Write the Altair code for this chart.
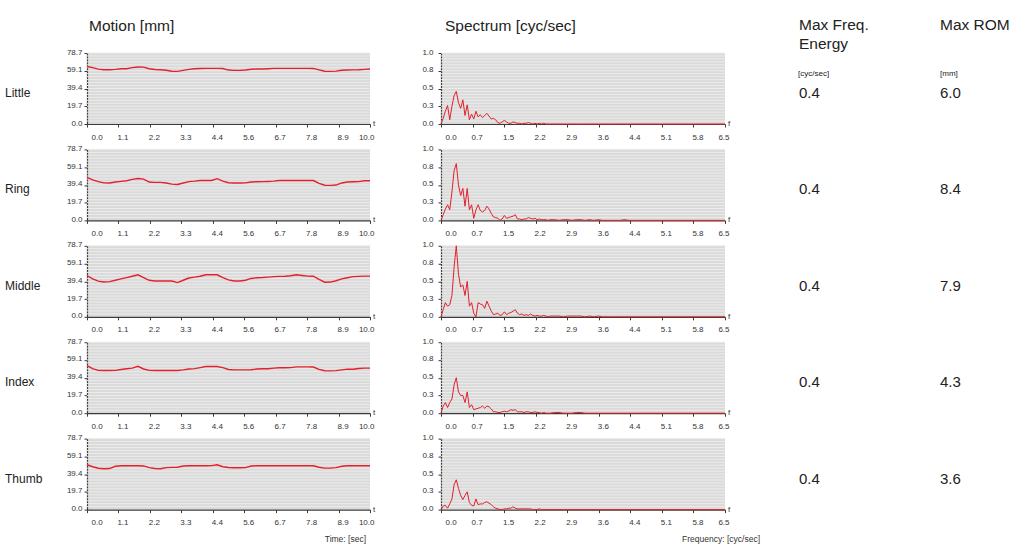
import altair as alt
import pandas as pd

# ---------------- data ----------------
fingers = ["Little", "Ring", "Middle", "Index", "Thumb"]
max_freq_energy = ["0.4", "0.4", "0.4", "0.4", "0.4"]
max_rom = ["6.0", "8.4", "7.9", "4.3", "3.6"]

time_sec = [round(i * 0.2, 1) for i in range(51)]

motion_little = [63.8, 62.5, 60.8, 60.1, 60.1, 60.5, 61.2, 61.3, 62.5, 63.1, 63.0,
                 61.2, 60.4, 60.2, 59.6, 58.5, 58.3, 59.5, 60.5, 61.2, 61.6,
                 61.7, 61.7, 61.7, 61.5, 59.8, 59.4, 59.4, 59.8, 60.7, 61.0,
                 61.0, 61.3, 61.7, 61.7, 61.7, 61.7, 61.7, 61.7, 61.7, 61.6,
                 60.0, 58.5, 58.3, 58.6, 59.6, 59.8, 60.0, 60.1, 60.5, 60.9]
motion_ring = [47.6, 45.0, 43.0, 41.6, 41.4, 42.5, 43.2, 44.0, 45.5, 46.5, 45.8,
               42.5, 42.1, 42.1, 41.5, 40.2, 39.8, 41.5, 43.0, 43.5, 44.2,
               44.3, 44.3, 46.3, 43.5, 41.8, 41.4, 41.4, 41.6, 42.5, 42.9,
               43.0, 43.2, 43.5, 44.3, 44.3, 44.3, 44.3, 44.3, 44.3, 44.2,
               41.0, 39.0, 38.8, 39.2, 41.5, 42.5, 42.9, 43.0, 44.0, 44.0]
motion_middle = [45.8, 42.0, 39.5, 38.6, 39.0, 40.5, 42.0, 43.5, 45.0, 46.6, 43.5,
                 40.5, 39.7, 39.7, 39.7, 39.7, 37.9, 40.5, 43.0, 44.0, 45.0,
                 46.6, 46.6, 46.6, 43.5, 41.0, 39.7, 39.7, 40.5, 42.5, 43.3,
                 43.5, 44.0, 44.5, 44.8, 45.0, 45.5, 46.6, 45.8, 45.1, 45.0,
                 41.5, 38.3, 38.5, 40.0, 42.0, 43.3, 44.5, 44.8, 45.1, 45.1]
motion_index = [52.8, 49.5, 47.5, 47.3, 47.3, 47.5, 48.5, 49.2, 50.0, 52.0, 49.0,
                47.5, 47.3, 47.3, 47.3, 47.3, 47.3, 48.0, 49.0, 49.4, 50.5,
                51.7, 51.7, 51.7, 50.5, 48.5, 48.0, 48.0, 48.0, 48.2, 49.0,
                49.2, 49.2, 50.0, 50.3, 50.3, 50.5, 51.4, 51.4, 51.4, 51.2,
                48.5, 47.0, 46.9, 47.2, 48.0, 48.8, 48.8, 49.5, 50.0, 50.0]
motion_thumb = [49.7, 47.5, 45.8, 45.3, 45.5, 48.0, 48.6, 48.6, 48.6, 48.6, 48.4,
                46.5, 45.5, 45.3, 46.5, 46.8, 47.0, 48.3, 48.6, 48.6, 48.6,
                48.6, 48.8, 49.7, 47.5, 46.6, 46.4, 46.4, 46.5, 48.3, 48.6,
                48.6, 48.6, 48.6, 48.6, 48.6, 48.6, 48.6, 48.6, 48.6, 48.6,
                47.0, 46.0, 46.0, 46.5, 48.0, 48.6, 48.6, 48.6, 48.6, 48.6]

freq_hz = ([round(i * 0.05, 2) for i in range(51)]
           + [round(2.6 + i * 0.1, 1) for i in range(19)] + [6.5])

spec_little = [0.0, 0.08, 0.18, 0.26, 0.06, 0.25, 0.40, 0.46, 0.30, 0.22, 0.34,
               0.12, 0.27, 0.06, 0.14, 0.07, 0.18, 0.10, 0.13, 0.09, 0.12,
               0.15, 0.11, 0.07, 0.08, 0.06, 0.02, 0.01, 0.03, 0.05, 0.03,
               0.01, 0.01, 0.03, 0.02, 0.01, 0.01, 0.0, 0.01, 0.01, 0.02,
               0.01, 0.0, 0.01, 0.0, 0.01, 0.0, 0.01, 0.0, 0.0, 0.0,
               0, 0, 0, 0, 0, 0, 0, 0, 0, 0, 0, 0, 0, 0, 0, 0, 0, 0, 0, 0.0]
spec_ring = [0.0, 0.08, 0.16, 0.22, 0.15, 0.40, 0.70, 0.80, 0.50, 0.35, 0.45,
             0.20, 0.45, 0.15, 0.22, 0.03, 0.15, 0.22, 0.14, 0.12, 0.14,
             0.20, 0.16, 0.10, 0.05, 0.04, 0.03, 0.0, 0.02, 0.07, 0.03,
             0.04, 0.05, 0.06, 0.08, 0.02, 0.02, 0.01, 0.02, 0.02, 0.04,
             0.03, 0.02, 0.03, 0.01, 0.02, 0.01, 0.01, 0.01, 0.0, 0.01,
             0.01, 0.0, 0.01, 0.01, 0.0, 0.01, 0.01, 0.0, 0.01, 0.0, 0.01,
             0.0, 0.0, 0.0, 0.0, 0.0, 0.01, 0.0, 0.0, 0.0]
spec_middle = [0.0, 0.10, 0.20, 0.15, 0.17, 0.30, 0.70, 1.0, 0.60, 0.42, 0.45,
               0.30, 0.50, 0.15, 0.20, 0.05, 0.0, 0.20, 0.18, 0.17, 0.12,
               0.22, 0.15, 0.08, 0.03, 0.04, 0.05, 0.02, 0.03, 0.07, 0.03,
               0.05, 0.06, 0.08, 0.10, 0.05, 0.03, 0.04, 0.02, 0.03, 0.02,
               0.04, 0.02, 0.01, 0.02, 0.01, 0.01, 0.02, 0.01, 0.0, 0.01,
               0.01, 0.01, 0.0, 0.01, 0.01, 0.01, 0.01, 0.0, 0.01, 0.0, 0.01,
               0.0, 0.0, 0.0, 0.0, 0.0, 0.0, 0.0, 0.0, 0.0]
spec_index = [0.0, 0.10, 0.15, 0.08, 0.15, 0.20, 0.40, 0.50, 0.30, 0.25, 0.25,
              0.15, 0.30, 0.08, 0.12, 0.05, 0.06, 0.07, 0.08, 0.10, 0.07,
              0.10, 0.09, 0.06, 0.02, 0.02, 0.01, 0.01, 0.02, 0.03, 0.02,
              0.03, 0.05, 0.04, 0.05, 0.02, 0.02, 0.02, 0.01, 0.02, 0.02,
              0.01, 0.01, 0.02, 0.01, 0.01, 0.0, 0.01, 0.0, 0.0, 0.0,
              0.01, 0.01, 0.0, 0.0, 0.0, 0.01, 0.01, 0.0, 0.0, 0.0,
              0.0, 0.0, 0.0, 0.0, 0.0, 0.0, 0.0, 0.0, 0.0, 0.0]
spec_thumb = [0.0, 0.05, 0.06, 0.02, 0.08, 0.15, 0.35, 0.42, 0.30, 0.20, 0.14,
              0.20, 0.25, 0.10, 0.06, 0.05, 0.15, 0.07, 0.08, 0.08, 0.10,
              0.11, 0.09, 0.07, 0.04, 0.02, 0.01, 0.0, 0.0, 0.01, 0.01,
              0.02, 0.02, 0.04, 0.02, 0.01, 0.01, 0.01, 0.01, 0.01, 0.01,
              0.01, 0.0, 0.0, 0.0, 0.01, 0.0, 0.0, 0.0, 0.0, 0.0,
              0, 0, 0, 0, 0, 0, 0, 0, 0, 0, 0, 0, 0, 0, 0, 0, 0, 0, 0, 0.0]

motion_series = [motion_little, motion_ring, motion_middle, motion_index, motion_thumb]
spectrum_series = [spec_little, spec_ring, spec_middle, spec_index, spec_thumb]

motion_y_labels = ["0.0", "19.7", "39.4", "59.1", "78.7"]
time_labels = ["0.0", "1.1", "2.2", "3.3", "4.4", "5.6", "6.7", "7.8", "8.9", "10.0"]
spec_y_labels = ["0.0", "0.3", "0.5", "0.8", "1.0"]
freq_labels = ["0.0", "0.7", "1.5", "2.2", "2.9", "3.6", "4.4", "5.1", "5.8", "6.5"]

MOTION_MAX = 78.7
TIME_MAX = 10.0
SPEC_MAX = 1.0
FREQ_MAX = 6.5

# ---------------- style ----------------
FONT = "Liberation Sans"
RED = "#e3202c"
TXT = "#222222"
TICK_TXT = "#333333"
AXIS_COL = "#3a3a3a"
BG = "#dadada"
STRIPE = "#ececec"
W_M, W_S, H = 283, 284, 71


def lab_expr(labels, step):
    arr = "[" + ",".join("'%s'" % s for s in labels) + "]"
    return "%s[round(datum.value / %r)]" % (arr, step)


def axis(values, labels, step, orient, pad, offset):
    return alt.Axis(values=values, labelExpr=lab_expr(labels, step), title=None,
                    grid=False, orient=orient, labelFont=FONT, labelFontSize=8,
                    labelColor=TICK_TXT, domainColor=AXIS_COL, tickColor=AXIS_COL,
                    tickSize=3, labelPadding=pad, labelOffset=offset, domainWidth=1.2)


def text(s, x, y, size, align="left", color=TXT):
    return alt.Chart(pd.DataFrame({"s": [s]})).mark_text(
        align=align, baseline="middle", font=FONT, fontSize=size, color=color
    ).encode(x=alt.value(x), y=alt.value(y), text="s:N")


def panel(xs_vals, ys_vals, xmax, ymax, xlabels, ylabels, width, letter, ypad):
    xstep = xmax / (len(xlabels) - 1)
    ystep = ymax / (len(ylabels) - 1)
    xscale = alt.Scale(domain=[0, xmax], nice=False, zero=False)
    yscale = alt.Scale(domain=[0, ymax], nice=False, zero=False)
    xaxis = axis([xstep * k for k in range(len(xlabels))], xlabels, xstep, "bottom", 6, 4)
    yaxis = axis([ystep * k for k in range(len(ylabels))], ylabels, ystep, "left", ypad, -1)
    stripe_df = pd.DataFrame({"g": [ymax * k / 24 for k in range(1, 25)],
                              "x0": [0.0] * 24, "x1": [xmax] * 24})
    stripes = alt.Chart(stripe_df).mark_rule(color=STRIPE, strokeWidth=1).encode(
        x=alt.X("x0:Q", scale=xscale, axis=xaxis),
        x2="x1:Q",
        y=alt.Y("g:Q", scale=yscale, axis=yaxis))
    df = pd.DataFrame({"x": xs_vals, "y": ys_vals})
    line = alt.Chart(df).mark_line(color=RED, strokeWidth=1.4 if letter == "t" else 1).encode(
        x=alt.X("x:Q", scale=xscale, axis=xaxis),
        y=alt.Y("y:Q", scale=yscale, axis=yaxis),
    )
    return [stripes, line, text(letter, width + 4, H, 8, align="center", color=TICK_TXT)]


panels = []
for i, name in enumerate(fingers):
    m_layers = panel(time_sec, motion_series[i], TIME_MAX, MOTION_MAX, time_labels,
                     motion_y_labels, W_M, "t", 2)
    m_layers.append(text(name, -82, 40, 12))
    s_layers = panel(freq_hz, spectrum_series[i], FREQ_MAX, SPEC_MAX, freq_labels,
                     spec_y_labels, W_S, "f", 5)
    s_layers.append(text(max_freq_energy[i], 358, 40, 15))
    s_layers.append(text(max_rom[i], 499, 40, 15))
    if i == 0:
        m_layers.append(text("Motion [mm]", 2, -27, 15.5))
        s_layers.append(text("Spectrum [cyc/sec]", 4, -27, 15.5))
        s_layers.append(text("Max Freq.", 358, -28, 15.5))
        s_layers.append(text("Energy", 358, -9, 15.5))
        s_layers.append(text("Max ROM", 499, -28, 15.5))
        s_layers.append(text("[cyc/sec]", 357, 21, 8))
        s_layers.append(text("[mm]", 499, 21, 8))
    if i == len(fingers) - 1:
        m_layers.append(text("Time: [sec]", 279, 100, 8.5, align="right", color=TICK_TXT))
        s_layers.append(text("Frequency: [cyc/sec]", 319, 100, 8.5, align="right",
                             color=TICK_TXT))
    panels.append(alt.layer(*m_layers).properties(width=W_M, height=H))
    panels.append(alt.layer(*s_layers).properties(width=W_S, height=H))

chart = alt.concat(*panels, columns=2, spacing=alt.RowColnumber(row=25.4, column=71),
                   bounds="flush").properties(
    padding={"left": 5, "top": 18, "right": 5, "bottom": 0},
    background="white",
).configure_view(fill=BG, stroke=None)

chart.save("out.html", embed_options={"renderer": "svg", "actions": False})
